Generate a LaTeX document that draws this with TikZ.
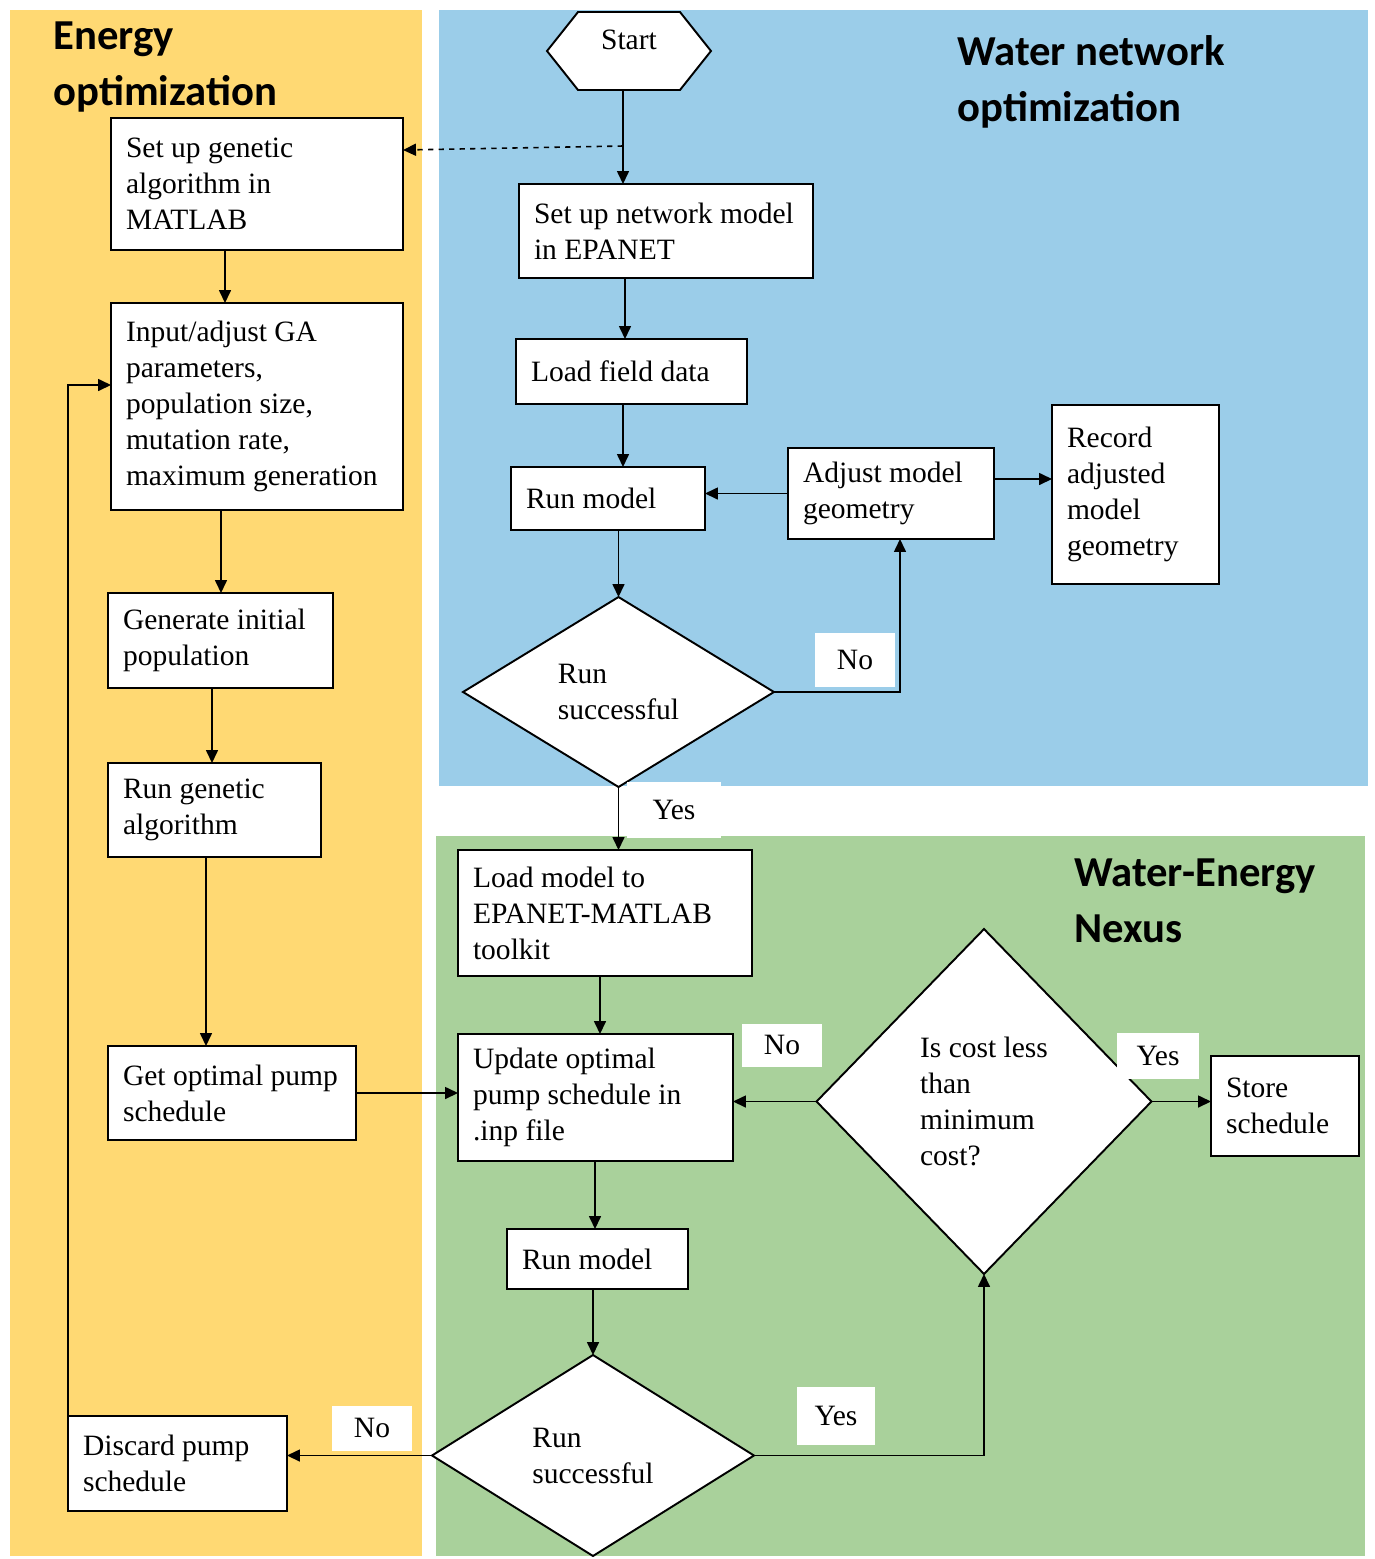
\documentclass[tikz,border=0pt]{standalone}
\usepackage{fontspec}
\setmainfont{Liberation Serif}
\newfontfamily\headfont{Carlito}
\usetikzlibrary{shapes.geometric,shapes.symbols,arrows.meta}

\definecolor{energy}{HTML}{FFD973}
\definecolor{water}{HTML}{9BCDE9}
\definecolor{nexus}{HTML}{A9D19B}

\tikzset{
	stepbox/.style={draw, fill=white, line width=1.1pt, align=left, inner xsep=0.3cm, inner ysep=0pt, outer sep=0pt, font=\fontsize{16.8}{20.5}\selectfont, execute at begin node={\spaceskip=0.25em plus 0.12em minus 0.08em\relax}},
	decision/.style={draw, fill=white, diamond, line width=1.1pt, align=left, inner sep=0pt, outer sep=0pt, font=\fontsize{16.8}{20.5}\selectfont, execute at begin node={\spaceskip=0.25em plus 0.12em minus 0.08em\relax}},
	answer/.style={fill=white, inner sep=0pt, font=\fontsize{16.8}{20.5}\selectfont},
	heading/.style={font=\headfont\bfseries\fontsize{24.3}{32}\selectfont, align=left, inner sep=0pt},
	flow/.style={line width=0.9pt, -{Triangle[length=2.6mm,width=2.4mm]}}
}

\begin{document}
\begin{tikzpicture}[x=0.02cm, y=-0.02cm]
	\useasboundingbox (0,0) rectangle (1375,1559);
	
	% lanes
	\fill[energy] (10,10) rectangle (422,1556);
	\fill[water] (439,10) rectangle (1368,786);
	\fill[nexus] (436,836) rectangle (1365,1556);
	
	\node[heading, anchor=north west] at (53,21) {Energy\\optimization};
	\node[heading, anchor=north west] at (957,35) {Water network\\optimization};
	\node[heading, anchor=north west] at (1074,858) {Water-Energy\\Nexus};
	
	% water network optimization
	\node (start) [draw, fill=white, signal, signal to=east and west, signal pointer angle=103, line width=1.1pt, inner sep=0pt, outer sep=0pt, minimum width=3.28cm, minimum height=1.56cm, text depth=0.44cm, font=\fontsize{16.8}{20.5}\selectfont] at (629,51) {Start};
	\node (netmod) [stepbox, text width=5.28cm, minimum height=1.88cm] at (666,231) {Set up network model\\in EPANET};
	\node (field) [stepbox, text width=4.02cm, minimum height=1.3cm] at (631.5,371.5) {Load field data};
	\node (runmod) [stepbox, text width=3.28cm, minimum height=1.26cm] at (608,498.5) {Run model};
	\node (adjust) [stepbox, text width=3.52cm, minimum height=1.82cm] at (891,493.5) {Adjust model\\geometry};
	\node (record) [stepbox, text width=2.74cm, minimum height=3.58cm] at (1135.5,494.5) {Record\\adjusted\\model\\geometry};
	\node (dia1) [decision, minimum width=6.22cm, minimum height=3.8cm] at (618.5,692) {Run\\successful};
	
	% energy optimization
	\node (ga) [stepbox, text width=5.24cm, minimum height=2.64cm] at (257,184) {Set up genetic\\algorithm in\\MATLAB};
	\node (gapar) [stepbox, text width=5.24cm, minimum height=4.14cm] at (257,406.5) {Input/adjust GA\\parameters,\\population size,\\mutation rate,\\maximum generation};
	\node (initpop) [stepbox, text width=3.9cm, minimum height=1.9cm] at (220.5,640.5) {Generate initial\\population};
	\node (runga) [stepbox, text width=3.66cm, minimum height=1.88cm] at (214.5,810) {Run genetic\\algorithm};
	\node (getopt) [stepbox, text width=4.36cm, minimum height=1.88cm] at (232,1093) {Get optimal pump\\schedule};
	\node (discard) [stepbox, text width=3.78cm, minimum height=1.9cm] at (177.5,1463.5) {Discard pump\\schedule};
	
	% water-energy nexus
	\node (loadmod) [stepbox, text width=5.28cm, minimum height=2.52cm] at (605,913) {Load model to\\EPANET-MATLAB\\toolkit};
	\node (update) [stepbox, text width=4.9cm, minimum height=2.54cm] at (595.5,1097.5) {Update optimal\\pump schedule in\\.inp file};
	\node (runmod2) [stepbox, text width=3.02cm, minimum height=1.2cm] at (597.5,1259) {Run model};
	\node (dia2) [decision, minimum width=6.44cm, minimum height=4.02cm] at (593,1455.5) {Run\\successful};
	\node (dia3) [decision, minimum width=6.7cm, minimum height=6.9cm] at (984,1101.5) {Is cost less\\than\\minimum\\cost?};
	\node (store) [stepbox, text width=2.36cm, minimum height=2.0cm] at (1285,1106) {Store\\schedule};
	
	\coordinate (split) at (623,146);
	\draw[flow] (623,0 |- start.south) -- (623,0 |- netmod.north);
	\draw[flow, dashed] (split) -- (ga.east |- 0,150);
	\draw[flow] (625,0 |- netmod.south) -- (625,0 |- field.north);
	\draw[flow] (623,0 |- field.south) -- (623,0 |- runmod.north);
	\draw[flow] (dia1.north |- runmod.south) -- (dia1.north);
	\draw[flow] (dia1.east) -| (900,0 |- adjust.south);
	\draw[flow] (adjust.west) -- (adjust.west -| runmod.east);
	\draw[flow] (adjust.east |- 0,479) -- (record.west |- 0,479);
	\draw[flow] (dia1.south) -- (dia1.south |- loadmod.north);
	
	\draw[flow] (225,0 |- ga.south) -- (225,0 |- gapar.north);
	\draw[flow] (221,0 |- gapar.south) -- (221,0 |- initpop.north);
	\draw[flow] (212,0 |- initpop.south) -- (212,0 |- runga.north);
	\draw[flow] (206,0 |- runga.south) -- (206,0 |- getopt.north);
	\draw[flow] (getopt.east) -- (getopt.east -| update.west);
	
	\draw[flow] (600,0 |- loadmod.south) -- (600,0 |- update.north);
	\draw[flow] (595,0 |- update.south) -- (595,0 |- runmod2.north);
	\draw[flow] (dia2.north |- runmod2.south) -- (dia2.north);
	\draw[flow] (dia3.west) -- (dia3.west -| update.east);
	\draw[flow] (dia3.east) -- (dia3.east -| store.west);
	\draw[flow] (dia2.west) -- (dia2.west -| discard.east);
	\draw[flow] (dia2.east) -| (dia3.south);
	\draw[flow] (discard.north west) |- (gapar.west |- 0,385);
	
	\node (no1) [answer, minimum width=1.6cm, minimum height=1.08cm] at (855,660) {No};
	\node (yes1) [answer, minimum width=1.88cm, minimum height=1.12cm] at (674,810) {Yes};
	\node (no2) [answer, minimum width=1.6cm, minimum height=0.86cm] at (782,1045) {No};
	\node (yes2) [answer, minimum width=1.64cm, minimum height=0.92cm] at (1158,1056) {Yes};
	\node (no3) [answer, minimum width=1.6cm, minimum height=0.9cm] at (372,1428) {No};
	\node (yes3) [answer, minimum width=1.56cm, minimum height=1.16cm] at (836,1416) {Yes};
	
\end{tikzpicture}
\end{document}
